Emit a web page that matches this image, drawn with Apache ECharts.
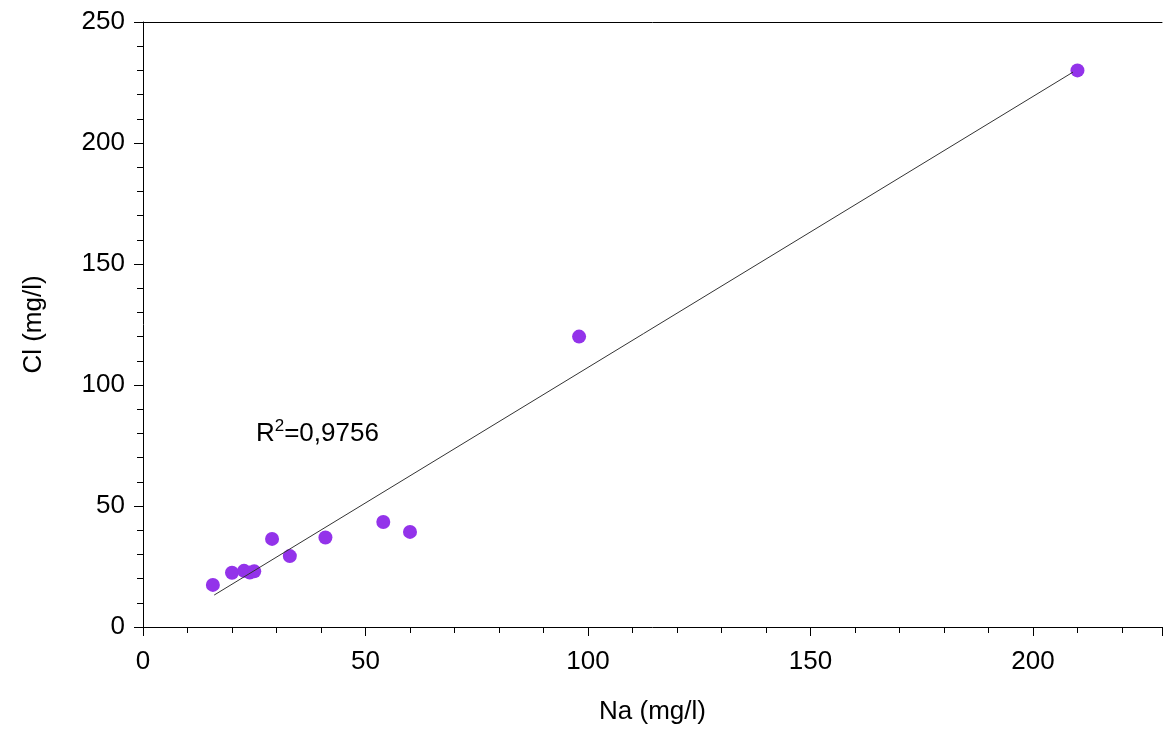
<!DOCTYPE html>
<html><head><meta charset="utf-8">
<script src="https://cdn.jsdelivr.net/npm/echarts@6/dist/echarts.min.js"></script>
<style>html,body{margin:0;background:#fff}#c{width:1163px;height:731px}</style>
</head><body><div id="c"></div>
<script>
const naValues = [15.7, 20, 22.7, 24, 25, 29, 33, 41, 54, 60, 98, 210];
const clValues = [17.4, 22.4, 23.2, 22.5, 23, 36.4, 29.3, 37.0, 43.4, 39.3, 120, 230];
const fitLine = [[16, 13.2], [209, 229.3]];
const r2Text = ['R', '2', '=0,9756'];
const r2Pos = [26.5, 80];

const chart = echarts.init(document.getElementById('c'));
const font = 'Liberation Sans, Arial, sans-serif';
chart.setOption({
  animation: false,
  grid: {left: 143, right: 1, top: 22, bottom: 104},
  xAxis: [{
    type: 'value', min: 0, max: 229, interval: 50, name: 'Na (mg/l)', nameLocation: 'middle', nameGap: 72,
    nameTextStyle: {fontSize: 26, color: '#000', fontFamily: font},
    axisLine: {lineStyle: {color: '#000', width: 1}},
    axisTick: {length: 9, lineStyle: {color: '#000'}},
    minorTick: {show: true, splitNumber: 5, length: 6, lineStyle: {color: '#000'}},
    axisLabel: {fontSize: 26, color: '#000', fontFamily: font, margin: 22, showMaxLabel: false},
    splitLine: {show: false}
  }, {
    type: 'value', position: 'top', min: 0, max: 229,
    axisLine: {show: true, lineStyle: {color: '#000'}}, axisTick: {show: false}, axisLabel: {show: false}, splitLine: {show: false}
  }],
  yAxis: {
    type: 'value', min: 0, max: 250, interval: 50, name: 'Cl (mg/l)', nameLocation: 'middle', nameGap: 96,
    nameTextStyle: {fontSize: 26, color: '#000', fontFamily: font},
    axisLine: {show: true, lineStyle: {color: '#000'}},
    axisTick: {length: 9, lineStyle: {color: '#000'}},
    minorTick: {show: true, splitNumber: 5, length: 6, lineStyle: {color: '#000'}},
    axisLabel: {fontSize: 26, color: '#000', fontFamily: font, margin: 18},
    splitLine: {show: false}
  },
  series: [{
    type: 'line', data: fitLine, symbol: 'none', lineStyle: {color: '#333', width: 1}
  }, {
    type: 'scatter', data: naValues.map((v, i) => [v, clValues[i]]), symbolSize: 14,
    itemStyle: {color: '#9333ea', opacity: 1}
  }, {
    type: 'scatter', data: [r2Pos], symbolSize: 0, silent: true, itemStyle: {opacity: 1},
    label: {show: true, position: 'right', offset: [-10, 0], color: '#000', opacity: 1,
      formatter: '{a|' + r2Text[0] + '}{s|' + r2Text[1] + '}{a|' + r2Text[2] + '}',
      rich: {a: {fontSize: 26, color: '#000', fontFamily: font},
             s: {fontSize: 17, color: '#000', fontFamily: font, verticalAlign: 'top', padding: [0, 0, 14, 0]}}}
  }]
});
</script></body></html>
